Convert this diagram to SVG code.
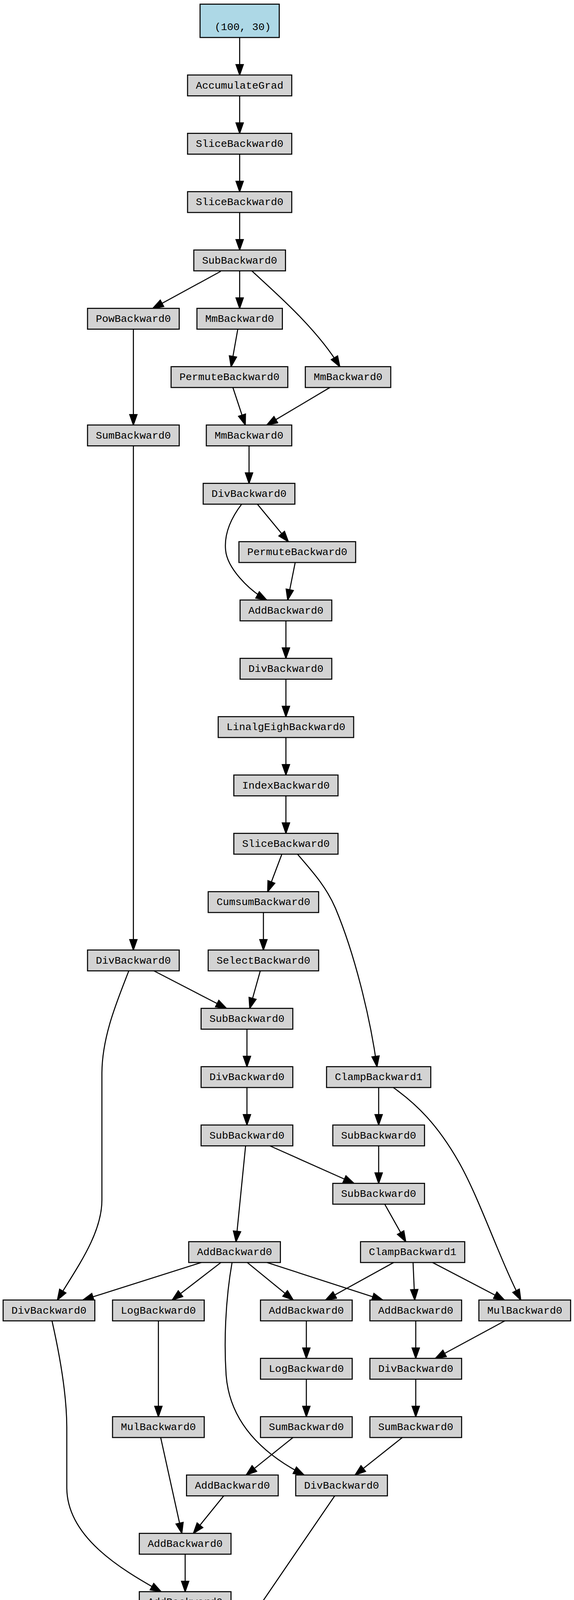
<svg xmlns="http://www.w3.org/2000/svg" width="1469" height="4771" viewBox="0 0 1469 4771">
<style>
.n rect{fill:#d3d3d3;stroke:#000;stroke-width:1}
.n text{font-family:"Liberation Mono","Courier New",monospace;font-size:10px;text-anchor:middle;fill:#000}
#n1 rect{fill:#add8e6}
#n32 rect{fill:#caff70}
.e path{fill:none;stroke:#000;stroke-width:1;marker-end:url(#arr)}
</style>
<defs>
<marker id="arr" viewBox="0 0 10 7" refX="10" refY="3.5" markerWidth="10" markerHeight="7" orient="auto" markerUnits="userSpaceOnUse" overflow="visible">
<path d="M0,0 L10,3.5 L0,7 Z" fill="#000" stroke="#000" stroke-width="1"/>
</marker>
</defs>
<rect width="1469" height="4771" fill="#fff"/>
<g transform="scale(2.6667)">
<g id="edges" class="e">
<path d="M230,36 L230,72"/>
<path d="M230,92 L230,128"/>
<path d="M230,148 L230,184"/>
<path d="M230,204 L230,240"/>
<path d="M211.8,260.5 L146.7,296"/>
<path d="M230,260 L230,296"/>
<path d="M241.6,260 C262,279 304,315 326.1,352"/>
<path d="M228.2,316 L221.8,352"/>
<path d="M223.5,372 L235.4,408"/>
<path d="M316.6,372 L256.1,408"/>
<path d="M128,316 L128,408"/>
<path d="M128,428 L128,912"/>
<path d="M239,428 L239,464"/>
<path d="M247,484 L276.7,520"/>
<path d="M231.9,484 C222,497 215,512 216.5,528 C218,545 238,566 255.9,576"/>
<path d="M283.3,540 L276.1,576"/>
<path d="M274.4,596 L274.4,632"/>
<path d="M274.4,652 L274.4,688"/>
<path d="M274.4,708 L274.4,744"/>
<path d="M274.4,764 L274.4,800"/>
<path d="M270.5,820 L256.9,856"/>
<path d="M285.5,820 C300,837 313,851 322,872 C340,915 355,975 361.8,1024"/>
<path d="M252.8,876 L252.8,912"/>
<path d="M249.8,932 L239.7,968"/>
<path d="M147.7,932 L217.3,968"/>
<path d="M123.6,932 C112,962 98,995 97.8,1030 L97.8,1152 C97.8,1185 73,1218 55.1,1248"/>
<path d="M237,988 L237,1024"/>
<path d="M237,1044 L237,1080"/>
<path d="M363.4,1044 L363.4,1080"/>
<path d="M377.4,1044 C400,1060 420,1080 440,1115 C460,1150 478,1205 499.8,1248"/>
<path d="M259,1100 L339.7,1136"/>
<path d="M363.4,1100 L363.4,1136"/>
<path d="M235.7,1100 L226.5,1192"/>
<path d="M369.2,1156 L389.4,1192"/>
<path d="M193.2,1212 L79.6,1248"/>
<path d="M212,1212 L165.3,1248"/>
<path d="M222.7,1212 C216,1250 215,1290 217,1320 C220,1360 245,1392 291.8,1416"/>
<path d="M237.3,1212 L281.4,1248"/>
<path d="M256.2,1212 L367.3,1248"/>
<path d="M377.8,1212 L312.5,1248"/>
<path d="M396.4,1212 L398,1248"/>
<path d="M415.1,1212 L484.1,1248"/>
<path d="M294,1268 L294,1304"/>
<path d="M399,1268 L399,1304"/>
<path d="M484.5,1268 L417.9,1304"/>
<path d="M152,1268 L152,1360"/>
<path d="M294,1324 L294,1360"/>
<path d="M399,1324 L399,1360"/>
<path d="M281.2,1380 L236.3,1416"/>
<path d="M386.1,1380 L340.8,1416"/>
<path d="M154.2,1380 L174.5,1472"/>
<path d="M214.7,1436 L185.6,1472"/>
<path d="M177.7,1492 L177.7,1528"/>
<path d="M49.9,1268 C56,1295 64,1335 64.1,1370 L64.1,1428 C64.1,1475 115,1506 154.6,1528"/>
<path d="M184.2,1548 L206.8,1584"/>
<path d="M321.2,1436 L220.2,1584"/>
<path d="M213.2,1604 L213.2,1640"/>
<path d="M213.2,1660 L213.2,1696"/>
<path d="M213.2,1716 L213.2,1752"/>
</g>
<g id="n1" class="n"><rect x="192" y="4" width="76" height="32"/><text x="233" y="29">(100, 30)</text></g>
<g id="n2" class="n"><rect x="180" y="72" width="100" height="20"/><text x="230" y="85">AccumulateGrad</text></g>
<g id="n3" class="n"><rect x="180" y="128" width="100" height="20"/><text x="230" y="141">SliceBackward0</text></g>
<g id="n4" class="n"><rect x="180" y="184" width="100" height="20"/><text x="230" y="197">SliceBackward0</text></g>
<g id="n5" class="n"><rect x="186" y="240" width="88" height="20"/><text x="230" y="253">SubBackward0</text></g>
<g id="n6a" class="n"><rect x="84" y="296" width="88" height="20"/><text x="128" y="309">PowBackward0</text></g>
<g id="n6b" class="n"><rect x="189" y="296" width="82" height="20"/><text x="230" y="309">MmBackward0</text></g>
<g id="n7a" class="n"><rect x="164.2" y="352" width="112" height="20"/><text x="220.2" y="365">PermuteBackward0</text></g>
<g id="n7b" class="n"><rect x="293" y="352" width="82" height="20"/><text x="334" y="365">MmBackward0</text></g>
<g id="n8a" class="n"><rect x="84" y="408" width="88" height="20"/><text x="128" y="421">SumBackward0</text></g>
<g id="n8b" class="n"><rect x="198" y="408" width="82" height="20"/><text x="239" y="421">MmBackward0</text></g>
<g id="n9" class="n"><rect x="195" y="464" width="88" height="20"/><text x="239" y="477">DivBackward0</text></g>
<g id="n10" class="n"><rect x="229.3" y="520" width="112" height="20"/><text x="285.3" y="533">PermuteBackward0</text></g>
<g id="n11" class="n"><rect x="230.4" y="576" width="88" height="20"/><text x="274.4" y="589">AddBackward0</text></g>
<g id="n12" class="n"><rect x="230.4" y="632" width="88" height="20"/><text x="274.4" y="645">DivBackward0</text></g>
<g id="n13" class="n"><rect x="209.4" y="688" width="130" height="20"/><text x="274.4" y="701">LinalgEighBackward0</text></g>
<g id="n14" class="n"><rect x="224.4" y="744" width="100" height="20"/><text x="274.4" y="757">IndexBackward0</text></g>
<g id="n15" class="n"><rect x="224.4" y="800" width="100" height="20"/><text x="274.4" y="813">SliceBackward0</text></g>
<g id="n16" class="n"><rect x="199.8" y="856" width="106" height="20"/><text x="252.8" y="869">CumsumBackward0</text></g>
<g id="n17a" class="n"><rect x="84" y="912" width="88" height="20"/><text x="128" y="925">DivBackward0</text></g>
<g id="n17b" class="n"><rect x="199.8" y="912" width="106" height="20"/><text x="252.8" y="925">SelectBackward0</text></g>
<g id="n18" class="n"><rect x="193" y="968" width="88" height="20"/><text x="237" y="981">SubBackward0</text></g>
<g id="n19a" class="n"><rect x="193" y="1024" width="88" height="20"/><text x="237" y="1037">DivBackward0</text></g>
<g id="n19b" class="n"><rect x="313.4" y="1024" width="100" height="20"/><text x="363.4" y="1037">ClampBackward1</text></g>
<g id="n20a" class="n"><rect x="193" y="1080" width="88" height="20"/><text x="237" y="1093">SubBackward0</text></g>
<g id="n20b" class="n"><rect x="319.4" y="1080" width="88" height="20"/><text x="363.4" y="1093">SubBackward0</text></g>
<g id="n21" class="n"><rect x="319.4" y="1136" width="88" height="20"/><text x="363.4" y="1149">SubBackward0</text></g>
<g id="n22a" class="n"><rect x="181.1" y="1192" width="88" height="20"/><text x="225.1" y="1205">AddBackward0</text></g>
<g id="n22b" class="n"><rect x="346" y="1192" width="100" height="20"/><text x="396" y="1205">ClampBackward1</text></g>
<g id="n23a" class="n"><rect x="3" y="1248" width="88" height="20"/><text x="47" y="1261">DivBackward0</text></g>
<g id="n23b" class="n"><rect x="108" y="1248" width="88" height="20"/><text x="152" y="1261">LogBackward0</text></g>
<g id="n23c" class="n"><rect x="250" y="1248" width="88" height="20"/><text x="294" y="1261">AddBackward0</text></g>
<g id="n23d" class="n"><rect x="355" y="1248" width="88" height="20"/><text x="399" y="1261">AddBackward0</text></g>
<g id="n23e" class="n"><rect x="459.6" y="1248" width="88" height="20"/><text x="503.6" y="1261">MulBackward0</text></g>
<g id="n24a" class="n"><rect x="250" y="1304" width="88" height="20"/><text x="294" y="1317">LogBackward0</text></g>
<g id="n24b" class="n"><rect x="355" y="1304" width="88" height="20"/><text x="399" y="1317">DivBackward0</text></g>
<g id="n25a" class="n"><rect x="108" y="1360" width="88" height="20"/><text x="152" y="1373">MulBackward0</text></g>
<g id="n25b" class="n"><rect x="250" y="1360" width="88" height="20"/><text x="294" y="1373">SumBackward0</text></g>
<g id="n25c" class="n"><rect x="355" y="1360" width="88" height="20"/><text x="399" y="1373">SumBackward0</text></g>
<g id="n26a" class="n"><rect x="179" y="1416" width="88" height="20"/><text x="223" y="1429">AddBackward0</text></g>
<g id="n26b" class="n"><rect x="283.8" y="1416" width="88" height="20"/><text x="327.8" y="1429">DivBackward0</text></g>
<g id="n27" class="n"><rect x="133.7" y="1472" width="88" height="20"/><text x="177.7" y="1485">AddBackward0</text></g>
<g id="n28" class="n"><rect x="133.7" y="1528" width="88" height="20"/><text x="177.7" y="1541">AddBackward0</text></g>
<g id="n29" class="n"><rect x="169.2" y="1584" width="88" height="20"/><text x="213.2" y="1597">SubBackward0</text></g>
<g id="n30" class="n"><rect x="169.2" y="1640" width="88" height="20"/><text x="213.2" y="1653">MulBackward0</text></g>
<g id="n31" class="n"><rect x="169.2" y="1696" width="88" height="20"/><text x="213.2" y="1709">AddBackward0</text></g>
<g id="n32" class="n"><rect x="186.2" y="1752" width="54" height="32"/><text x="216.2" y="1777">()</text></g>
</g>
</svg>
